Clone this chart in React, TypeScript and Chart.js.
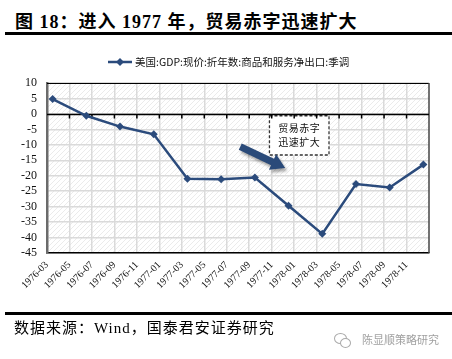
import React, { useEffect, useRef } from 'react';
import { Chart, registerables } from 'chart.js';

Chart.register(...registerables);

const months = [
  '1976-03', '1976-04', '1976-05', '1976-06', '1976-07', '1976-08', '1976-09', '1976-10', '1976-11', '1976-12',
  '1977-01', '1977-02', '1977-03', '1977-04', '1977-05', '1977-06', '1977-07', '1977-08', '1977-09', '1977-10',
  '1977-11', '1977-12', '1978-01', '1978-02', '1978-03', '1978-04', '1978-05', '1978-06', '1978-07', '1978-08',
  '1978-09', '1978-10', '1978-11', '1978-12',
];
const quarters = [
  '1976-03', '1976-06', '1976-09', '1976-12',
  '1977-03', '1977-06', '1977-09', '1977-12',
  '1978-03', '1978-06', '1978-09', '1978-12',
];
const netExports = [4.8, -0.6, -4.1, -6.6, -21.0, -21.1, -20.6, -29.7, -38.8, -22.7, -23.8, -16.4];
const yMin = -45;
const yMax = 10;
const yStep = 5;
const seriesName = '美国:GDP:现价:折年数:商品和服务净出口:季调';
const noteLines = ['贸易赤字', '迅速扩大'];
const titleText = '图 18：进入 1977 年，贸易赤字迅速扩大';
const sourceText = '数据来源：Wind，国泰君安证券研究';
const watermark = '陈显顺策略研究';

// annotation placement in data units (category index, value)
const noteBox = { x0: 19.3, x1: 24.6, y0: -0.6, y1: -13.3 };
const arrowSpec = { x0: 16.7, y0: -10.6, x1: 20.7, y1: -17.5 };

const LINE_COLOR = '#2b4b7c';
const GRID_COLOR = '#dadada';

const plotDecor = {
  id: 'plotDecor',
  beforeDraw(chart: any) {
    const { ctx, chartArea: a } = chart;
    ctx.save();
    ctx.fillStyle = '#ffffff';
    ctx.fillRect(a.left, a.top, a.right - a.left, a.bottom - a.top);
    const pc = document.createElement('canvas');
    pc.width = 5;
    pc.height = 5;
    const p = pc.getContext('2d')!;
    p.strokeStyle = '#ebebeb';
    p.lineWidth = 1;
    p.beginPath();
    p.moveTo(0, 5);
    p.lineTo(5, 0);
    p.moveTo(-1, 1);
    p.lineTo(1, -1);
    p.moveTo(4, 6);
    p.lineTo(6, 4);
    p.stroke();
    ctx.fillStyle = ctx.createPattern(pc, 'repeat');
    ctx.fillRect(a.left, a.top, a.right - a.left, a.bottom - a.top);
    ctx.restore();
  },
  beforeDatasetsDraw(chart: any) {
    const { ctx, chartArea: a, scales } = chart;
    const xs = scales.x;
    const ys = scales.y;
    ctx.save();
    // top & right borders
    ctx.strokeStyle = '#000';
    ctx.lineWidth = 1.2;
    ctx.beginPath();
    ctx.moveTo(a.left, a.top + 0.5);
    ctx.lineTo(a.right, a.top + 0.5);
    ctx.stroke();
    ctx.strokeStyle = '#444';
    ctx.lineWidth = 1.5;
    ctx.beginPath();
    ctx.moveTo(a.right, a.top);
    ctx.lineTo(a.right, a.bottom);
    ctx.stroke();
    // annotation box (under the series)
    const bx0 = xs.getPixelForValue(noteBox.x0);
    const bx1 = xs.getPixelForValue(noteBox.x1);
    const by0 = ys.getPixelForValue(noteBox.y0);
    const by1 = ys.getPixelForValue(noteBox.y1);
    ctx.fillStyle = '#ffffff';
    ctx.fillRect(bx0, by0, bx1 - bx0, by1 - by0);
    ctx.setLineDash([3, 2]);
    ctx.strokeStyle = '#333';
    ctx.lineWidth = 1.3;
    ctx.strokeRect(bx0, by0, bx1 - bx0, by1 - by0);
    ctx.setLineDash([]);
    ctx.fillStyle = '#111';
    ctx.font = '10px "Noto Sans CJK SC"';
    ctx.textAlign = 'center';
    ctx.textBaseline = 'middle';
    try { (ctx as any).letterSpacing = '0.5px'; } catch (e) {}
    const cx = (bx0 + bx1) / 2;
    const h = by1 - by0;
    noteLines.forEach((t, i) => {
      ctx.fillText(t, cx, by0 + h * (0.32 + i * 0.36));
    });
    try { (ctx as any).letterSpacing = '0px'; } catch (e) {}
    // zero line with ticks
    const y0 = Math.round(ys.getPixelForValue(0)) + 0.5;
    ctx.strokeStyle = '#000';
    ctx.lineWidth = 1.5;
    ctx.beginPath();
    ctx.moveTo(a.left, y0);
    ctx.lineTo(a.right, y0);
    for (let i = 2; i < months.length; i += 2) {
      const gx = (xs.getPixelForValue(i) + xs.getPixelForValue(i - 1)) / 2;
      ctx.moveTo(gx, y0);
      ctx.lineTo(gx, y0 + 4);
    }
    ctx.stroke();
    // arrow
    const ax0 = xs.getPixelForValue(arrowSpec.x0);
    const ay0 = ys.getPixelForValue(arrowSpec.y0);
    const ax1 = xs.getPixelForValue(arrowSpec.x1);
    const ay1 = ys.getPixelForValue(arrowSpec.y1);
    const ang = Math.atan2(ay1 - ay0, ax1 - ax0);
    const len = Math.hypot(ax1 - ax0, ay1 - ay0);
    const shaftW = 7;
    const headW = 17;
    const headL = 14;
    ctx.translate(ax0, ay0);
    ctx.rotate(ang);
    ctx.shadowColor = 'rgba(0,0,0,0.35)';
    ctx.shadowBlur = 3;
    ctx.shadowOffsetX = 2;
    ctx.shadowOffsetY = 3;
    ctx.fillStyle = '#2a4a79';
    ctx.beginPath();
    ctx.moveTo(0, -shaftW / 2);
    ctx.lineTo(len - headL, -shaftW / 2);
    ctx.lineTo(len - headL, -headW / 2);
    ctx.lineTo(len, 0);
    ctx.lineTo(len - headL, headW / 2);
    ctx.lineTo(len - headL, shaftW / 2);
    ctx.lineTo(0, shaftW / 2);
    ctx.closePath();
    ctx.fill();
    ctx.restore();
  },
  afterDraw(chart: any) {
    const { ctx } = chart;
    ctx.save();
    // legend
    const ly = 62;
    ctx.strokeStyle = LINE_COLOR;
    ctx.lineWidth = 2.5;
    ctx.beginPath();
    ctx.moveTo(108, ly);
    ctx.lineTo(132, ly);
    ctx.stroke();
    ctx.fillStyle = LINE_COLOR;
    ctx.beginPath();
    ctx.moveTo(120, ly - 4);
    ctx.lineTo(124, ly);
    ctx.lineTo(120, ly + 4);
    ctx.lineTo(116, ly);
    ctx.closePath();
    ctx.fill();
    ctx.fillStyle = '#111';
    ctx.font = '10.5px "Noto Sans CJK SC"';
    ctx.textAlign = 'left';
    ctx.textBaseline = 'middle';
    ctx.fillText(seriesName, 135, ly);
    ctx.restore();
  },
};

export default function App() {
  const ref = useRef<HTMLCanvasElement | null>(null);
  useEffect(() => {
    if (!ref.current) return;
    const chart = new Chart(ref.current, {
      type: 'line',
      data: {
        labels: months,
        datasets: [
          {
            label: seriesName,
            data: quarters.map((q, i) => ({ x: q, y: netExports[i] })) as any,
            borderColor: LINE_COLOR,
            backgroundColor: LINE_COLOR,
            borderWidth: 2.5,
            pointStyle: 'rectRot',
            pointRadius: 4,
            pointBorderWidth: 0,
            tension: 0,
          },
        ],
      },
      options: {
        animation: false,
        responsive: false,
        layout: { padding: { left: 0, top: 83, right: 23, bottom: 56 } },
        plugins: { legend: { display: false }, title: { display: false }, tooltip: { enabled: false } },
        scales: {
          x: {
            type: 'category',
            offset: true,
            grid: {
              offset: true,
              drawTicks: false,
              lineWidth: 1.5,
              color: (c: any) => (c.index % 2 === 0 ? GRID_COLOR : 'rgba(0,0,0,0)'),
            },
            border: { display: true, color: '#000', width: 1.5 },
            ticks: {
              autoSkip: false,
              maxRotation: 45,
              minRotation: 45,
              padding: 6,
              labelOffset: -5.6,
              color: '#111',
              font: { family: '"Liberation Serif"', size: 10 },
              callback: function (this: any, v: any, i: number) {
                return i % 2 === 0 ? months[i] : '';
              },
            },
            afterFit: (s: any) => {
              s.height = 50;
            },
          },
          y: {
            min: yMin,
            max: yMax,
            grid: { color: GRID_COLOR, lineWidth: 1.5, drawTicks: false },
            border: { display: true, color: '#6b6b6b', width: 2.5 },
            ticks: {
              stepSize: yStep,
              autoSkip: false,
              padding: 10,
              color: '#111',
              font: { family: '"Liberation Serif"', size: 12 },
            },
            afterFit: (s: any) => {
              s.width = 47;
            },
          },
        },
      },
      plugins: [plotDecor],
    });
    return () => chart.destroy();
  }, []);

  return (
    <div style={{ position: 'fixed', left: 0, top: 0, width: 452, height: 359, background: '#fff', overflow: 'hidden' }}>
      <div
        style={{
          position: 'absolute',
          left: 15,
          top: 8,
          fontFamily: '"Liberation Serif", "Noto Sans CJK SC"',
          fontWeight: 'bold',
          fontSize: 18,
          letterSpacing: 1,
          lineHeight: '28px',
          whiteSpace: 'nowrap',
          color: '#000',
        }}
      >
        {titleText}
      </div>
      <div style={{ position: 'absolute', left: 5, right: 0, top: 32, height: 3, background: '#000' }} />
      <canvas ref={ref} width={452} height={359} style={{ position: 'absolute', left: 0, top: 0 }} />
      <div style={{ position: 'absolute', left: 5, right: 0, top: 312, height: 3, background: '#000' }} />
      <div
        style={{
          position: 'absolute',
          left: 14,
          top: 318,
          fontFamily: '"Liberation Serif", "Noto Sans CJK SC"',
          fontSize: 15,
          letterSpacing: 1,
          lineHeight: '20px',
          whiteSpace: 'nowrap',
          color: '#000',
        }}
      >
        {sourceText}
      </div>
      <div
        style={{
          position: 'absolute',
          left: 334,
          top: 333,
          width: 11,
          height: 9,
          borderRadius: '50%',
          border: '1px solid #aaa',
        }}
      />
      <div
        style={{
          position: 'absolute',
          left: 340,
          top: 338,
          width: 9,
          height: 8,
          borderRadius: '50%',
          border: '1px solid #aaa',
          background: '#fff',
        }}
      />
      <div
        style={{
          position: 'absolute',
          left: 362,
          top: 331,
          fontFamily: '"Noto Sans CJK SC"',
          fontSize: 11,
          lineHeight: '16px',
          whiteSpace: 'nowrap',
          color: '#a0a0a0',
        }}
      >
        {watermark}
      </div>
    </div>
  );
}
